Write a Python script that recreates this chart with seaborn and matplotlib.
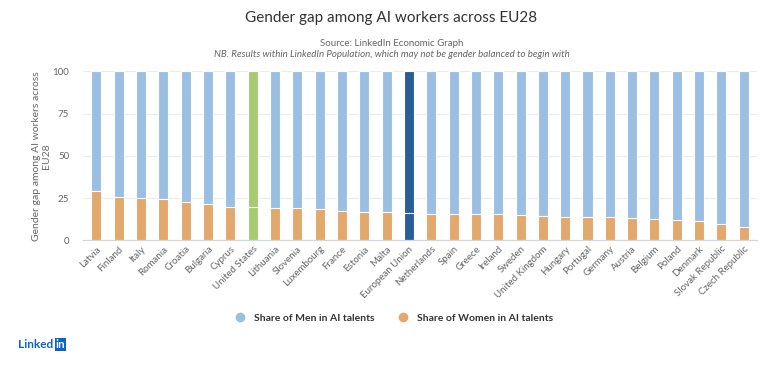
"""
Gender gap among AI workers across EU28 - stacked share bars (LinkedIn data).
"""
import matplotlib
matplotlib.use("Agg")
import matplotlib.pyplot as plt
from matplotlib.lines import Line2D
import pandas as pd
import seaborn as sns

countries = [
    "Latvia", "Finland", "Italy", "Romania", "Croatia", "Bulgaria", "Cyprus",
    "United States", "Lithuania", "Slovenia", "Luxembourg", "France", "Estonia",
    "Malta", "European Union", "Netherlands", "Spain", "Greece", "Ireland",
    "Sweden", "United Kingdom", "Hungary", "Portugal", "Germany", "Austria",
    "Belgium", "Poland", "Denmark", "Slovak Republic", "Czech Republic",
]
women_share = [
    28.9, 25.6, 25.1, 24.3, 22.9, 21.2, 19.4,
    19.8, 18.9, 18.9, 18.5, 17.3, 16.9,
    16.5, 16.3, 15.5, 15.5, 15.5, 15.5,
    14.7, 14.6, 13.7, 13.7, 13.7, 13.2,
    12.3, 11.9, 11.4, 9.4, 8.0,
]
men_share = [100 - w for w in women_share]

MEN = "#9bbfe2"
WOMEN = "#e3a86b"
HIGHLIGHT = {"United States": "#a6cc72", "European Union": "#2b5e99"}

df = pd.DataFrame({"country": countries, "women": women_share, "men": men_share})
df["total"] = df["women"] + df["men"]

men_pal = {c: HIGHLIGHT.get(c, MEN) for c in countries}
women_pal = {c: HIGHLIGHT.get(c, WOMEN) for c in countries}

sns.set_style("white")
plt.rcParams["font.family"] = ["Lato", "DejaVu Sans"]

fig = plt.figure(figsize=(7.83, 3.79), dpi=100)
ax = fig.add_axes([0.106, 0.366, 0.861, 0.446])

sns.barplot(data=df, x="country", y="total", hue="country", palette=men_pal,
            legend=False, width=0.45, saturation=1, edgecolor="white",
            linewidth=0.8, ax=ax)
sns.barplot(data=df, x="country", y="women", hue="country", palette=women_pal,
            legend=False, width=0.45, saturation=1, edgecolor="white",
            linewidth=0.8, ax=ax)

ax.set_ylim(0, 100)
ax.set_xlim(-0.6, len(countries) - 0.4)
ax.set_yticks([0, 25, 50, 75, 100])
ax.yaxis.grid(True, color="#ececec", linewidth=0.8)
ax.set_axisbelow(True)
for side in ["top", "right", "left"]:
    ax.spines[side].set_visible(False)
ax.spines["bottom"].set_color("#ccd6eb")
ax.tick_params(axis="y", length=0, labelsize=7, labelcolor="#666666", pad=10)
ax.tick_params(axis="x", length=0, labelsize=7, labelcolor="#666666", pad=3)
ax.set_xticks(range(len(countries)))
ax.set_xticklabels(countries, rotation=45, ha="right", rotation_mode="anchor")
ax.set_xlabel("")
ax.set_ylabel("Gender gap among AI workers across\nEU28", fontsize=7.5,
              color="#666666", labelpad=1, linespacing=1.1)

fig.text(0.5, 0.952, "Gender gap among AI workers across EU28", ha="center",
         va="center", fontsize=11, color="#333333")
fig.text(0.5, 0.884, "Source: LinkedIn Economic Graph", ha="center",
         va="center", fontsize=7, color="#666666")
fig.text(0.5, 0.857, "NB. Results within LinkedIn Population, which may not be "
         "gender balanced to begin with", ha="center", va="center",
         fontsize=7, color="#666666", style="italic")

handles = [
    Line2D([], [], marker="o", linestyle="", markersize=6,
           markerfacecolor=MEN, markeredgecolor=MEN,
           label="Share of Men in AI talents"),
    Line2D([], [], marker="o", linestyle="", markersize=6,
           markerfacecolor=WOMEN, markeredgecolor=WOMEN,
           label="Share of Women in AI talents"),
]
leg = fig.legend(handles=handles, loc="center", bbox_to_anchor=(0.5, 0.161),
                 ncol=2, frameon=False, fontsize=7.5, handletextpad=0.3,
                 columnspacing=1.8)
for t in leg.get_texts():
    t.set_color("#333333")
    t.set_fontweight("bold")

fig.text(0.023, 0.09, "Linked", ha="left", va="center", fontsize=8.5,
         color="#0a66c2", fontweight="bold")
fig.text(0.071, 0.09, "in", ha="left", va="center", fontsize=8.5,
         color="white", fontweight="bold",
         bbox=dict(boxstyle="square,pad=0.08", facecolor="#0a66c2",
                   edgecolor="none"))

fig.savefig("out.png", dpi=100, facecolor="white")
